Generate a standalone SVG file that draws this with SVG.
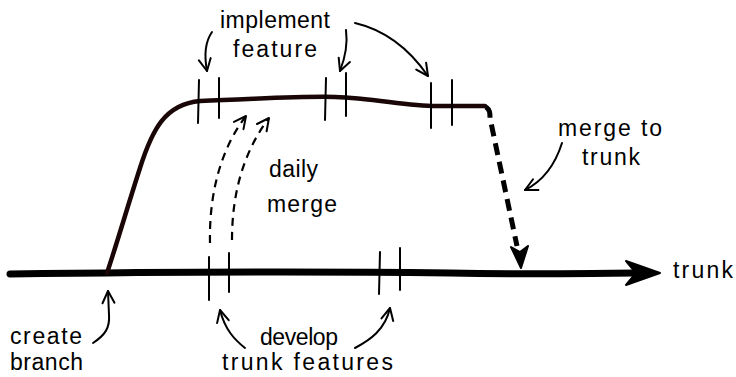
<svg xmlns="http://www.w3.org/2000/svg" width="736" height="377" viewBox="0 0 736 377">
<style>
.lbl{font-family:"Liberation Sans","Open Sans",sans-serif;font-size:23px;fill:#000}
.ann{fill:none;stroke:#000;stroke-width:2;stroke-linecap:round;marker-end:url(#v)}
.tick{stroke:#000;stroke-width:2;stroke-linecap:round}
.dm{fill:none;stroke:#000;stroke-width:2.2;stroke-dasharray:8 6;marker-end:url(#v)}
</style>
<defs>
<marker id="v" markerUnits="userSpaceOnUse" viewBox="-14 -8 16 16" refX="0" refY="0" markerWidth="16" markerHeight="16" orient="auto">
<path d="M-12,-6 L0,0 L-12,6" fill="none" stroke="#000" stroke-width="2" stroke-linecap="round" stroke-linejoin="round"/>
</marker>
</defs>
<rect width="736" height="377" fill="#fff"/>
<g id="trunk">
<path d="M10,274 C 150,272 300,271 450,273 C 540,275 590,273 636,273" fill="none" stroke="#000" stroke-width="7" stroke-linecap="round"/>
<path d="M626,261 L660,273 L626,285 L636,273 Z" fill="#000" stroke="#000" stroke-width="2" stroke-linejoin="round"/>
</g>
<g id="branch">
<path d="M107,273 C 118,240 128,205 140,168 C 152,130 165,104 200,101 C 260,99 300,96 335,97 C 375,98 410,107 440,106 L 485,106" fill="none" stroke="#1a0606" stroke-width="4.5" stroke-linecap="round"/>
</g>
<g id="branch-ticks">
<line class="tick" x1="199" y1="80" x2="198" y2="123"/>
<line class="tick" x1="219" y1="78" x2="219" y2="118"/>
<line class="tick" x1="326" y1="78" x2="325" y2="120"/>
<line class="tick" x1="346" y1="73" x2="346" y2="116"/>
<line class="tick" x1="431" y1="83" x2="431" y2="128"/>
<line class="tick" x1="452" y1="80" x2="452" y2="125"/>
</g>
<g id="trunk-ticks">
<line class="tick" x1="209" y1="257" x2="209" y2="300"/>
<line class="tick" x1="229" y1="253" x2="229" y2="292"/>
<line class="tick" x1="380" y1="252" x2="379" y2="294"/>
<line class="tick" x1="400" y1="248" x2="400" y2="290"/>
</g>
<g id="connectors">
<path d="M486,107 C 490,110 490,113 490,118 L 517,246" fill="none" stroke="#000" stroke-width="5" stroke-dasharray="12 7"/>
<path d="M511,247 L521,268 L528,246 L520,252 Z" fill="#000" stroke="#000" stroke-width="2" stroke-linejoin="round"/>
<path class="dm" d="M210,243 C 209,195 220,150 246,116"/>
<path class="dm" d="M232,240 C 232,190 245,150 269,118"/>
<path class="ann" d="M212,32 C 205,42 204,55 207,71"/>
<path class="ann" d="M346,30 C 348,45 345,58 340,71"/>
<path class="ann" d="M355,23 C 385,30 410,50 428,76"/>
<path class="ann" d="M562,143 C 556,162 545,180 525,190"/>
<path class="ann" d="M93,343 C 105,335 110,328 109,315 L108,291"/>
<path class="ann" d="M245,348 C 235,340 225,330 220,310"/>
<path class="ann" d="M355,348 C 370,340 385,330 390,308"/>
</g>
<g id="labels">
<text class="lbl" x="220" y="28" textLength="110">implement</text>
<text class="lbl" x="233" y="57" textLength="84">feature</text>
<text class="lbl" x="269" y="177" textLength="49">daily</text>
<text class="lbl" x="267" y="212" textLength="70">merge</text>
<text class="lbl" x="558" y="136" textLength="104">merge to</text>
<text class="lbl" x="582" y="165" textLength="58">trunk</text>
<text class="lbl" x="673" y="278" textLength="60">trunk</text>
<text class="lbl" x="10" y="344" textLength="72">create</text>
<text class="lbl" x="10" y="370" textLength="73">branch</text>
<text class="lbl" x="260" y="345" textLength="78">develop</text>
<text class="lbl" x="222" y="370" textLength="171">trunk features</text>
</g>
</svg>
